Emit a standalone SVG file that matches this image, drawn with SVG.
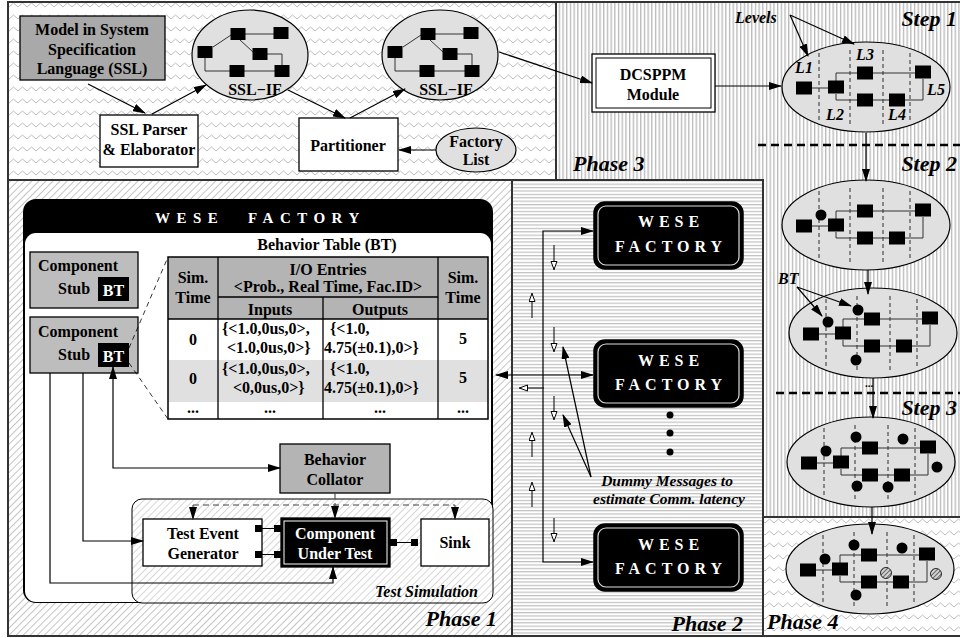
<svg xmlns="http://www.w3.org/2000/svg" width="960" height="638" viewBox="0 0 960 638">
<defs>
<style>
text{font-family:"Liberation Serif","Times New Roman",serif;font-weight:bold;fill:#000;font-size:16px}
.c{text-anchor:middle}
.r{text-anchor:end}
.it{font-style:italic}
.w{fill:#fff}
.ph{font-size:22px;font-style:italic}
.ln{fill:none;stroke:#000;stroke-width:1.2}
.ar{marker-end:url(#ah)}
.ar2{marker-start:url(#ah);marker-end:url(#ah)}
.ho{fill:none;stroke:#000;stroke-width:1;marker-end:url(#hol)}
.gl{fill:none;stroke:#333;stroke-width:1}
.dv{fill:none;stroke:#000;stroke-width:0.8;stroke-dasharray:4 3}
.ell{fill:#e0e0e0;stroke:#000;stroke-width:1.2}
.bd{fill:none;stroke:#333;stroke-width:2}
.box{fill:#fff;stroke:#000;stroke-width:1.3}
.gbox{fill:#b4b4b4;stroke:#000;stroke-width:1.3}
.dash{fill:none;stroke:#444;stroke-width:1.1;stroke-dasharray:6 4}
.thick{fill:none;stroke:#000;stroke-width:2.5;stroke-dasharray:8 5}
.wf{fill:#000;stroke:#000;stroke-width:1.5}
.wi{fill:none;stroke:#ddd;stroke-width:1.2}
.wt{fill:#fff;font-size:16px;letter-spacing:5px}
</style>
<pattern id="zig" width="9" height="12" patternUnits="userSpaceOnUse">
<rect width="9" height="12" fill="#fff"/>
<path d="M0 7 L4.5 3 L9 7" fill="none" stroke="#b4b4b4" stroke-width="0.9"/>
</pattern>
<pattern id="vl" width="3.7" height="10" patternUnits="userSpaceOnUse">
<rect width="3.7" height="10" fill="#fff"/>
<rect width="1.3" height="10" fill="#b8b8b8"/>
</pattern>
<pattern id="hl" width="10" height="3.4" patternUnits="userSpaceOnUse">
<rect width="10" height="3.4" fill="#fff"/>
<rect width="10" height="1.2" fill="#c0c0c0"/>
</pattern>
<pattern id="dg" width="5" height="5" patternUnits="userSpaceOnUse" patternTransform="rotate(45)">
<rect width="5" height="5" fill="#fff"/>
<rect width="1" height="5" fill="#c4c4c4"/>
</pattern>
<pattern id="dg2" width="5" height="5" patternUnits="userSpaceOnUse" patternTransform="rotate(45)">
<rect width="5" height="5" fill="#fff"/>
<rect width="1" height="5" fill="#d6d6d6"/>
</pattern>
<pattern id="hc" width="3" height="3" patternUnits="userSpaceOnUse" patternTransform="rotate(45)">
<rect width="3" height="3" fill="#d4d4d4"/>
<rect width="1" height="3" fill="#666"/>
</pattern>
<marker id="ah" markerWidth="13" markerHeight="8" refX="12" refY="4" orient="auto-start-reverse" markerUnits="userSpaceOnUse">
<path d="M0 0 L13 4 L0 8 Z" fill="#000"/>
</marker>
<marker id="hol" markerWidth="9" markerHeight="8" refX="9" refY="3.5" orient="auto" markerUnits="userSpaceOnUse">
<path d="M0.5 0.5 L8.5 3.5 L0.5 6.5 Z" fill="#fff" stroke="#000" stroke-width="1"/>
</marker>
<g id="lg">
<ellipse cx="62" cy="-1" rx="84" ry="45" class="ell"/>
<path class="dv" d="M15 -35V35M46 -38V37M79 -38V37M106 -35V35"/>
<path class="gl" d="M8 0H24M32 -7V-15H53M69 -15H111M32 6V12H53M69 12H85M101 12H119V-9"/>
<rect x="-8" y="-6.5" width="16" height="13"/>
<rect x="24" y="-7.5" width="16" height="13"/>
<rect x="53" y="-21.5" width="16" height="13"/>
<rect x="53" y="5.5" width="16" height="13"/>
<rect x="85" y="5.5" width="16" height="13"/>
<rect x="111" y="-22.5" width="16" height="13"/>
</g>
<g id="sg">
<ellipse cx="0" cy="0" rx="58" ry="45" class="ell"/>
<path class="gl" d="M-37 -8L-19 -20M-5 -21H24M-10 -15L3 -3M17 -1H32V10M-45 3V16H-20M-6 16H25"/>
<rect x="-52.5" y="-9" width="15" height="12"/>
<rect x="-19.5" y="-27" width="15" height="12"/>
<rect x="23.5" y="-28" width="15" height="12"/>
<rect x="2.5" y="-7" width="15" height="12"/>
<rect x="-20.5" y="10" width="15" height="12"/>
<rect x="24.5" y="10" width="15" height="12"/>
</g>
</defs>

<!-- backgrounds -->
<rect x="8" y="2" width="548" height="178" fill="url(#zig)"/>
<path d="M556 2H960V517H763V180H556Z" fill="url(#vl)"/>
<rect x="8" y="180" width="504" height="456" fill="url(#dg)"/>
<rect x="512" y="180" width="251" height="456" fill="url(#hl)"/>
<rect x="763" y="517" width="197" height="121" fill="url(#zig)"/>
<g id="borders">
<rect x="8" y="2" width="548" height="178" class="bd"/>
<rect x="8" y="180" width="504" height="456" class="bd"/>
<rect x="512" y="180" width="251" height="456" class="bd"/>
<path d="M556 2H960M763 517H960M763 636H960" class="bd"/>
</g>

<!-- Top panel nodes -->
<g id="model">
<rect x="20" y="16" width="145" height="64" style="fill:#a9a9a9;stroke:#000;stroke-width:1.3"/>
<text x="92" y="35" class="c">Model in System</text>
<text x="92" y="55" class="c">Specification</text>
<text x="92" y="74" class="c">Language (SSL)</text>
</g>
<g id="parser">
<rect x="100" y="115" width="98" height="52" class="box"/>
<text x="149" y="135" class="c">SSL Parser</text>
<text x="149" y="155" class="c">&amp; Elaborator</text>
</g>
<g id="sslif1">
<use href="#sg" x="250" y="55"/>
<text x="255" y="95" class="c">SSL−IF</text>
</g>
<g id="partitioner">
<rect x="299" y="118" width="99" height="53" class="box"/>
<text x="348" y="151" class="c">Partitioner</text>
</g>
<g id="sslif2">
<use href="#sg" x="440" y="55"/>
<text x="446" y="95" class="c">SSL−IF</text>
</g>
<g id="factorylist">
<ellipse cx="476" cy="150" rx="40" ry="22" class="ell"/>
<text x="476" y="147" class="c">Factory</text>
<text x="476" y="165" class="c">List</text>
</g>
<g id="dcsppm">
<rect x="592" y="54" width="123" height="58" class="box"/>
<rect x="596" y="58" width="115" height="50" fill="none" stroke="#000" stroke-width="1"/>
<text x="653" y="80" class="c">DCSPPM</text>
<text x="653" y="100" class="c">Module</text>
</g>

<!-- Phase 3 steps -->
<g id="step1">
<use href="#lg" x="804" y="88"/>
<text x="804" y="73" class="c it">L1</text>
<text x="865" y="60" class="c it">L3</text>
<text x="835" y="120" class="c it">L2</text>
<text x="897" y="120" class="c it">L4</text>
<text x="936" y="95" class="c it">L5</text>
</g>
<g id="step2">
<use href="#lg" x="804" y="226"/>
<circle cx="821" cy="215" r="5.5"/>
</g>
<g id="stepbt">
<use href="#lg" x="811" y="334"/>
<circle cx="828" cy="322" r="5.5"/>
<circle cx="858" cy="310" r="5.5"/>
<circle cx="856" cy="360" r="5.5"/>
</g>
<g id="step3">
<use href="#lg" x="809" y="463"/>
<circle cx="826" cy="451" r="5.5"/>
<circle cx="856" cy="437" r="5.5"/>
<circle cx="903" cy="439" r="5.5"/>
<circle cx="937" cy="467" r="5.5"/>
<circle cx="857" cy="486" r="5.5"/>
<circle cx="888" cy="487" r="5.5"/>
</g>
<g id="phase4graph">
<use href="#lg" x="808" y="570"/>
<circle cx="825" cy="559" r="5.5"/>
<circle cx="854" cy="545" r="5.5"/>
<circle cx="902" cy="548" r="5.5"/>
<circle cx="856" cy="595" r="5.5"/>
<circle cx="886" cy="573" r="5.5" fill="url(#hc)" stroke="#000" stroke-width="0.8"/>
<circle cx="936" cy="574" r="5.5" fill="url(#hc)" stroke="#000" stroke-width="0.8"/>
</g>

<!-- Phase 1 -->
<g id="wese-main">
<rect x="23" y="199" width="470" height="404" rx="13" fill="#000"/>
<rect x="25" y="233" width="466" height="369" rx="11" fill="#fff"/>
<text x="155" y="223" class="w" style="font-size:15px;letter-spacing:6.5px">WESE</text>
<text x="248" y="223" class="w" style="font-size:15px;letter-spacing:6.5px">FACTORY</text>
<text x="327" y="250" class="c">Behavior Table (BT)</text>
</g>
<g id="bt-table">
<rect x="168" y="257" width="320" height="62" fill="#b4b4b4"/>
<rect x="168" y="360" width="320" height="42" fill="#e0e0e0"/>
<rect x="168" y="257" width="320" height="162" fill="none" stroke="#000" stroke-width="1.5"/>
<path d="M218 257V419M438 257V419M323 297V419M218 297H438" fill="none" stroke="#000" stroke-width="1.3"/>
<path d="M168 319H488" fill="none" stroke="#000" stroke-width="1.5"/>
<text x="193" y="283" class="c">Sim.</text>
<text x="193" y="303" class="c">Time</text>
<text x="463" y="283" class="c">Sim.</text>
<text x="463" y="303" class="c">Time</text>
<text x="328" y="275" class="c">I/O Entries</text>
<text x="328" y="292" class="c">&lt;Prob., Real Time, Fac.ID&gt;</text>
<text x="270" y="315" class="c">Inputs</text>
<text x="380" y="315" class="c">Outputs</text>
<text x="193" y="345" class="c">0</text>
<text x="222" y="334">{&lt;1.0,0us,0&gt;,</text>
<text x="227" y="353">&lt;1.0,0us,0&gt;}</text>
<text x="330" y="334">{&lt;1.0,</text>
<text x="324" y="353">4.75(±0.1),0&gt;}</text>
<text x="463" y="344" class="c">5</text>
<text x="193" y="384" class="c">0</text>
<text x="222" y="374">{&lt;1.0,0us,0&gt;,</text>
<text x="233" y="393">&lt;0,0us,0&gt;}</text>
<text x="330" y="374">{&lt;1.0,</text>
<text x="324" y="393">4.75(±0.1),0&gt;}</text>
<text x="463" y="383" class="c">5</text>
<text x="193" y="413" class="c">...</text>
<text x="270" y="413" class="c">...</text>
<text x="380" y="413" class="c">...</text>
<text x="463" y="413" class="c">...</text>
</g>
<g id="stub1">
<rect x="30" y="252" width="108" height="56" fill="#bdbdbd" stroke="#000" stroke-width="1.3"/>
<text x="38" y="271">Component</text>
<text x="58" y="294">Stub</text>
<rect x="98" y="277" width="31" height="24" fill="#000"/>
<text x="113.5" y="296" class="c w">BT</text>
</g>
<g id="stub2">
<rect x="30" y="317" width="108" height="56" fill="#bdbdbd" stroke="#000" stroke-width="1.3"/>
<text x="38" y="337">Component</text>
<text x="58" y="360">Stub</text>
<rect x="98" y="343" width="31" height="24" fill="#000"/>
<text x="113.5" y="362" class="c w">BT</text>
</g>
<g id="collator">
<rect x="280" y="444" width="110" height="49" class="gbox"/>
<text x="335" y="465" class="c">Behavior</text>
<text x="335" y="485" class="c">Collator</text>
</g>
<g id="testsim">
<rect x="132" y="499" width="361" height="104" rx="10" fill="url(#dg2)" stroke="#000" stroke-width="1"/>
<text x="478" y="597" class="r it">Test Simulation</text>
</g>
<g id="teg">
<rect x="143" y="519" width="119" height="47" class="box"/>
<text x="203" y="539" class="c">Test Event</text>
<text x="203" y="559" class="c">Generator</text>
</g>
<g id="cut">
<rect x="281" y="518" width="109" height="49" fill="#000" stroke="#000" stroke-width="1.3"/>
<rect x="284" y="521" width="103" height="43" fill="none" stroke="#fff" stroke-width="1"/>
<text x="335" y="539" class="c w">Component</text>
<text x="335" y="559" class="c w">Under Test</text>
</g>
<g id="sink">
<rect x="421" y="519" width="68" height="47" class="box"/>
<text x="455" y="548" class="c">Sink</text>
</g>

<!-- Phase 2 -->
<g id="wese1">
<rect x="594" y="202" width="149" height="67" rx="11" class="wf"/>
<rect x="598" y="206" width="141" height="59" rx="8" class="wi"/>
<text x="671" y="227" class="c wt">WESE</text>
<text x="671" y="252" class="c wt">FACTORY</text>
</g>
<g id="wese2">
<rect x="594" y="340" width="149" height="67" rx="11" class="wf"/>
<rect x="598" y="344" width="141" height="59" rx="8" class="wi"/>
<text x="671" y="366" class="c wt">WESE</text>
<text x="671" y="390" class="c wt">FACTORY</text>
</g>
<g id="wese3">
<rect x="594" y="524" width="149" height="67" rx="11" class="wf"/>
<rect x="598" y="528" width="141" height="59" rx="8" class="wi"/>
<text x="671" y="550" class="c wt">WESE</text>
<text x="671" y="574" class="c wt">FACTORY</text>
</g>
<g id="dots">
<circle cx="670" cy="415" r="3.5"/>
<circle cx="670" cy="433" r="3.5"/>
<circle cx="670" cy="452" r="3.5"/>
</g>

<!-- connectors -->
<g id="connectors">
<path class="ln ar" d="M88 84L145 113"/>
<path class="ln ar" d="M152 114L206 85"/>
<path class="ln ar" d="M288 90L345 118"/>
<path class="ln ar" d="M350 118L405 89"/>
<path class="ln ar" d="M436 150H399"/>
<path class="ln ar" d="M499 52L592 83"/>
<path class="ln ar" d="M715 86H781"/>
<path class="ln ar" d="M790 15L808 56"/>
<path class="ln ar" d="M790 15L854 44"/>
<path class="thick" d="M758 145H960M776 393H960"/>
<path class="ln ar" d="M866 133V181"/>
<path class="ln ar" d="M868 270V294"/>
<path class="ln ar" d="M797 287L822 316"/>
<path class="ln ar" d="M797 287L851 306"/>
<path class="ln ar" d="M873 378V418"/>
<path class="ln ar" d="M872 507V534"/>
<path class="dv" d="M129 348L168 257M129 363L168 419" style="stroke-dasharray:5 4"/>
<path class="ln ar" d="M50 373V583H333V567"/>
<path class="ln ar" d="M83 373V541H143"/>
<path class="ln ar2" d="M113 367V468H280"/>
<path class="dash ar" d="M335 493V518"/>
<path class="dash" d="M193 505H455"/>
<path class="dash ar" d="M193 505V519"/>
<path class="dash ar" d="M455 505V519"/>
<path fill="none" stroke="#000" stroke-width="1.2" d="M262 528.5H274M262 554.5H274M397 542.5H411"/>
<rect x="255" y="525" width="7" height="7"/>
<rect x="255" y="551" width="7" height="7"/>
<rect x="274" y="525" width="7" height="7"/>
<rect x="274" y="551" width="7" height="7"/>
<rect x="390" y="539" width="7" height="7"/>
<rect x="411" y="539" width="7" height="7"/>
<path class="ln ar2" d="M593 231H543V562H593"/>
<path class="ln ar2" d="M496 375H593"/>
<path class="ho" d="M554 245V270"/>
<path class="ho" d="M532 318V293"/>
<path class="ho" d="M554 327V352"/>
<path class="ho" d="M544 388H519"/>
<path class="ho" d="M554 396V420"/>
<path class="ho" d="M532 457V432"/>
<path class="ho" d="M532 507V482"/>
<path class="ho" d="M554 518V542"/>
<path class="ln ar" d="M591 477L563 347"/>
<path class="ln ar" d="M591 477L563 415"/>
</g>

<!-- labels -->
<text x="735" y="23" class="it">Levels</text>
<text x="778" y="284" class="it">BT</text>
<text x="869" y="387" class="c" style="font-size:11px">...</text>
<text x="957" y="26" class="r ph">Step 1</text>
<text x="957" y="171" class="r ph">Step 2</text>
<text x="957" y="415" class="r ph">Step 3</text>
<text x="573" y="171" class="ph">Phase 3</text>
<text x="497" y="626" class="r ph">Phase 1</text>
<text x="743" y="631" class="r ph">Phase 2</text>
<text x="767" y="629" class="ph">Phase 4</text>
<text x="667" y="486" class="c it" style="font-size:15.5px">Dummy Messages to</text>
<text x="669" y="504" class="c it" style="font-size:15.5px">estimate Comm. latency</text>
</svg>
